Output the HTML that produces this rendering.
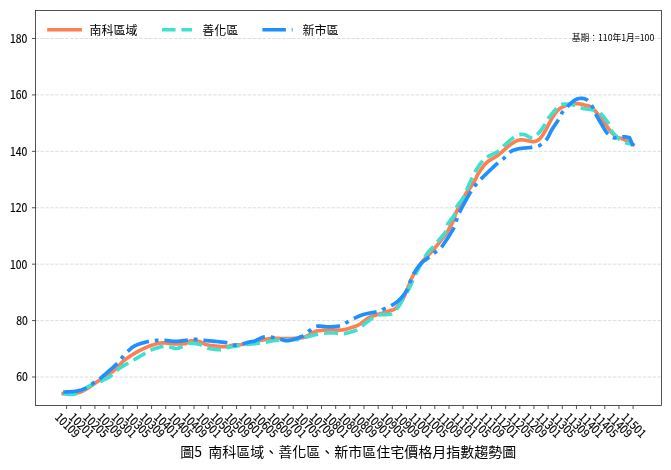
<!DOCTYPE html>
<html><head><meta charset="utf-8"><title>圖5 南科區域、善化區、新市區住宅價格月指數趨勢圖</title>
<style>
html,body{margin:0;padding:0;background:#fff;width:671px;height:470px;overflow:hidden}
svg{display:block;will-change:transform}
text{font-family:'Noto Sans CJK TC', 'Liberation Sans', sans-serif;fill:#000}
.t{stroke:#000;stroke-width:0.18px}
</style></head><body>
<svg width="671" height="470" viewBox="0 0 671 470">
<rect width="671" height="470" fill="#fff"/>
<line x1="35.5" y1="377.00" x2="661.5" y2="377.00" stroke="#dcdcdc" stroke-width="0.93" stroke-dasharray="3.446 1.490"/>
<line x1="35.5" y1="320.58" x2="661.5" y2="320.58" stroke="#dcdcdc" stroke-width="0.93" stroke-dasharray="3.446 1.490"/>
<line x1="35.5" y1="264.17" x2="661.5" y2="264.17" stroke="#dcdcdc" stroke-width="0.93" stroke-dasharray="3.446 1.490"/>
<line x1="35.5" y1="207.75" x2="661.5" y2="207.75" stroke="#dcdcdc" stroke-width="0.93" stroke-dasharray="3.446 1.490"/>
<line x1="35.5" y1="151.34" x2="661.5" y2="151.34" stroke="#dcdcdc" stroke-width="0.93" stroke-dasharray="3.446 1.490"/>
<line x1="35.5" y1="94.92" x2="661.5" y2="94.92" stroke="#dcdcdc" stroke-width="0.93" stroke-dasharray="3.446 1.490"/>
<line x1="35.5" y1="38.50" x2="661.5" y2="38.50" stroke="#dcdcdc" stroke-width="0.93" stroke-dasharray="3.446 1.490"/>
<path d="M63.20,393.50 L65.30,393.40 L67.39,393.39 L69.48,393.41 L71.57,393.42 L73.67,393.35 L75.77,393.16 L77.88,392.80 L80.00,392.20 L82.13,391.34 L84.28,390.26 L86.43,389.01 L88.59,387.63 L90.75,386.17 L92.90,384.68 L95.06,383.21 L97.20,381.80 L99.39,380.41 L101.66,378.96 L103.96,377.49 L106.24,376.01 L108.45,374.54 L110.55,373.10 L112.48,371.71 L114.20,370.40 L115.72,369.12 L117.08,367.84 L118.30,366.58 L119.40,365.37 L120.38,364.23 L121.27,363.19 L122.07,362.27 L122.80,361.50 L123.36,360.94 L123.69,360.61 L123.87,360.42 L123.98,360.32 L124.11,360.23 L124.34,360.10 L124.74,359.84 L125.40,359.40 L126.34,358.76 L127.47,357.99 L128.76,357.12 L130.16,356.19 L131.62,355.24 L133.10,354.30 L134.54,353.41 L135.90,352.60 L137.20,351.86 L138.51,351.15 L139.81,350.46 L141.11,349.80 L142.40,349.16 L143.70,348.55 L145.00,347.96 L146.30,347.40 L147.62,346.85 L148.97,346.32 L150.34,345.81 L151.69,345.33 L153.03,344.88 L154.32,344.47 L155.55,344.11 L156.70,343.80 L157.75,343.55 L158.69,343.34 L159.57,343.19 L160.41,343.07 L161.24,342.99 L162.10,342.94 L163.01,342.91 L164.00,342.90 L165.06,342.93 L166.15,343.02 L167.27,343.15 L168.43,343.31 L169.62,343.46 L170.85,343.61 L172.11,343.73 L173.40,343.80 L174.79,343.84 L176.29,343.89 L177.86,343.92 L179.45,343.93 L181.01,343.91 L182.48,343.85 L183.83,343.75 L185.00,343.60 L185.95,343.36 L186.72,343.03 L187.35,342.63 L187.90,342.21 L188.43,341.79 L188.98,341.41 L189.62,341.10 L190.40,340.90 L191.31,340.79 L192.31,340.74 L193.38,340.74 L194.48,340.79 L195.60,340.88 L196.71,341.02 L197.78,341.19 L198.80,341.40 L199.74,341.67 L200.63,342.03 L201.48,342.44 L202.32,342.88 L203.18,343.33 L204.08,343.77 L205.05,344.17 L206.10,344.50 L207.26,344.78 L208.51,345.03 L209.82,345.26 L211.17,345.46 L212.54,345.65 L213.90,345.81 L215.23,345.96 L216.50,346.10 L217.73,346.23 L218.95,346.35 L220.15,346.46 L221.33,346.55 L222.50,346.61 L223.65,346.65 L224.78,346.65 L225.90,346.60 L227.00,346.49 L228.08,346.32 L229.14,346.11 L230.18,345.86 L231.21,345.61 L232.22,345.37 L233.22,345.16 L234.20,345.00 L235.09,344.91 L235.84,344.88 L236.54,344.88 L237.24,344.89 L238.02,344.89 L238.94,344.84 L240.08,344.72 L241.50,344.50 L243.29,344.16 L245.42,343.72 L247.79,343.21 L250.29,342.65 L252.82,342.08 L255.29,341.53 L257.58,341.02 L259.60,340.60 L261.36,340.24 L262.96,339.90 L264.44,339.59 L265.83,339.31 L267.16,339.05 L268.46,338.84 L269.76,338.65 L271.10,338.50 L272.45,338.40 L273.77,338.35 L275.08,338.35 L276.36,338.37 L277.64,338.41 L278.92,338.45 L280.20,338.49 L281.50,338.50 L282.80,338.51 L284.10,338.53 L285.39,338.55 L286.69,338.57 L287.99,338.58 L289.31,338.58 L290.64,338.55 L292.00,338.50 L293.38,338.45 L294.78,338.41 L296.20,338.37 L297.63,338.31 L299.07,338.20 L300.51,338.02 L301.96,337.77 L303.40,337.40 L304.88,336.88 L306.43,336.19 L308.01,335.40 L309.57,334.56 L311.10,333.71 L312.53,332.92 L313.85,332.23 L315.00,331.70 L315.94,331.33 L316.67,331.07 L317.25,330.89 L317.77,330.78 L318.27,330.71 L318.84,330.65 L319.52,330.59 L320.40,330.50 L321.47,330.39 L322.67,330.29 L323.97,330.20 L325.34,330.12 L326.75,330.05 L328.16,329.99 L329.56,329.94 L330.90,329.90 L332.20,329.90 L333.51,329.93 L334.81,330.00 L336.11,330.06 L337.40,330.11 L338.70,330.13 L340.00,330.10 L341.30,330.00 L342.61,329.83 L343.95,329.60 L345.29,329.34 L346.62,329.03 L347.95,328.70 L349.24,328.34 L350.50,327.97 L351.70,327.60 L352.85,327.22 L353.94,326.84 L355.00,326.44 L356.03,326.03 L357.05,325.58 L358.05,325.10 L359.07,324.57 L360.10,324.00 L361.14,323.35 L362.18,322.60 L363.22,321.80 L364.25,320.97 L365.28,320.15 L366.32,319.36 L367.36,318.63 L368.40,318.00 L369.42,317.47 L370.41,317.02 L371.38,316.62 L372.37,316.26 L373.38,315.92 L374.44,315.58 L375.58,315.21 L376.80,314.80 L378.16,314.35 L379.67,313.87 L381.26,313.38 L382.89,312.88 L384.52,312.38 L386.07,311.89 L387.52,311.43 L388.80,311.00 L389.91,310.64 L390.88,310.37 L391.76,310.14 L392.56,309.92 L393.33,309.65 L394.09,309.31 L394.87,308.84 L395.70,308.20 L396.58,307.40 L397.48,306.49 L398.38,305.47 L399.29,304.36 L400.18,303.17 L401.05,301.92 L401.90,300.63 L402.70,299.30 L403.47,297.89 L404.21,296.36 L404.93,294.75 L405.63,293.10 L406.31,291.44 L406.96,289.81 L407.59,288.25 L408.20,286.80 L408.78,285.43 L409.32,284.11 L409.84,282.83 L410.33,281.60 L410.82,280.41 L411.30,279.26 L411.79,278.16 L412.30,277.10 L412.81,276.11 L413.31,275.21 L413.81,274.37 L414.31,273.56 L414.83,272.77 L415.36,271.96 L415.91,271.11 L416.50,270.20 L417.12,269.22 L417.76,268.20 L418.41,267.14 L419.09,266.06 L419.79,264.99 L420.51,263.92 L421.25,262.89 L422.00,261.90 L422.77,260.97 L423.55,260.09 L424.35,259.25 L425.17,258.42 L426.02,257.58 L426.88,256.71 L427.78,255.79 L428.70,254.80 L429.66,253.75 L430.66,252.65 L431.69,251.51 L432.74,250.34 L433.80,249.14 L434.87,247.92 L435.94,246.67 L437.00,245.40 L438.09,244.05 L439.25,242.60 L440.43,241.08 L441.61,239.56 L442.74,238.08 L443.79,236.69 L444.72,235.45 L445.50,234.40 L446.09,233.60 L446.52,233.03 L446.82,232.61 L447.05,232.28 L447.25,231.97 L447.45,231.62 L447.72,231.15 L448.10,230.50 L448.58,229.69 L449.11,228.78 L449.68,227.79 L450.28,226.74 L450.88,225.65 L451.48,224.51 L452.06,223.36 L452.60,222.20 L453.10,221.01 L453.58,219.75 L454.04,218.46 L454.49,217.14 L454.95,215.81 L455.41,214.50 L455.89,213.23 L456.40,212.00 L456.94,210.82 L457.50,209.68 L458.07,208.56 L458.66,207.46 L459.25,206.37 L459.84,205.29 L460.42,204.20 L461.00,203.10 L461.57,201.98 L462.13,200.83 L462.69,199.68 L463.26,198.54 L463.82,197.41 L464.38,196.32 L464.94,195.28 L465.50,194.30 L466.06,193.40 L466.62,192.58 L467.17,191.81 L467.73,191.07 L468.29,190.34 L468.85,189.60 L469.42,188.83 L470.00,188.00 L470.60,187.11 L471.22,186.17 L471.86,185.21 L472.50,184.22 L473.13,183.25 L473.73,182.29 L474.29,181.37 L474.80,180.50 L475.24,179.69 L475.62,178.93 L475.96,178.21 L476.27,177.51 L476.58,176.81 L476.91,176.10 L477.27,175.37 L477.70,174.60 L478.19,173.78 L478.71,172.93 L479.27,172.05 L479.86,171.16 L480.45,170.27 L481.04,169.41 L481.63,168.58 L482.20,167.80 L482.75,167.06 L483.29,166.35 L483.82,165.66 L484.35,165.00 L484.89,164.36 L485.44,163.75 L486.01,163.16 L486.60,162.60 L487.22,162.07 L487.85,161.58 L488.51,161.12 L489.18,160.69 L489.85,160.27 L490.53,159.85 L491.22,159.43 L491.90,159.00 L492.59,158.57 L493.28,158.16 L493.98,157.76 L494.69,157.36 L495.39,156.95 L496.10,156.53 L496.80,156.08 L497.50,155.60 L498.20,155.08 L498.91,154.52 L499.62,153.94 L500.33,153.34 L501.02,152.73 L501.70,152.14 L502.37,151.55 L503.00,151.00 L503.59,150.48 L504.12,149.98 L504.63,149.50 L505.12,149.02 L505.62,148.54 L506.16,148.05 L506.74,147.54 L507.40,147.00 L508.14,146.41 L508.95,145.78 L509.81,145.11 L510.71,144.44 L511.61,143.78 L512.51,143.16 L513.38,142.59 L514.20,142.10 L514.97,141.68 L515.70,141.29 L516.41,140.95 L517.11,140.65 L517.81,140.39 L518.53,140.18 L519.29,140.02 L520.10,139.90 L520.97,139.85 L521.89,139.86 L522.85,139.94 L523.83,140.05 L524.81,140.19 L525.77,140.34 L526.71,140.48 L527.60,140.60 L528.45,140.74 L529.27,140.92 L530.06,141.13 L530.84,141.33 L531.61,141.50 L532.37,141.62 L533.14,141.66 L533.90,141.60 L534.66,141.46 L535.42,141.27 L536.17,141.03 L536.92,140.72 L537.66,140.33 L538.41,139.86 L539.15,139.28 L539.90,138.60 L540.65,137.79 L541.40,136.84 L542.15,135.80 L542.91,134.66 L543.66,133.47 L544.41,132.22 L545.15,130.96 L545.90,129.70 L546.64,128.39 L547.38,126.99 L548.12,125.54 L548.85,124.06 L549.58,122.58 L550.32,121.14 L551.06,119.77 L551.80,118.50 L552.55,117.30 L553.30,116.14 L554.05,115.02 L554.80,113.94 L555.55,112.93 L556.30,111.98 L557.05,111.10 L557.80,110.30 L558.54,109.60 L559.28,108.98 L560.02,108.45 L560.75,107.98 L561.48,107.55 L562.22,107.15 L562.96,106.78 L563.70,106.40 L564.44,106.03 L565.16,105.69 L565.88,105.38 L566.61,105.09 L567.34,104.83 L568.10,104.60 L568.88,104.39 L569.70,104.20 L570.56,104.03 L571.45,103.89 L572.37,103.77 L573.31,103.67 L574.26,103.61 L575.21,103.57 L576.16,103.57 L577.10,103.60 L578.04,103.68 L579.01,103.80 L579.98,103.97 L580.94,104.16 L581.90,104.37 L582.84,104.59 L583.74,104.80 L584.60,105.00 L585.43,105.18 L586.25,105.36 L587.04,105.53 L587.81,105.71 L588.55,105.90 L589.25,106.10 L589.90,106.34 L590.50,106.60 L591.03,106.89 L591.49,107.19 L591.89,107.50 L592.26,107.84 L592.61,108.21 L592.97,108.60 L593.36,109.03 L593.80,109.50 L594.28,110.01 L594.79,110.57 L595.31,111.16 L595.85,111.79 L596.39,112.43 L596.94,113.09 L597.47,113.75 L598.00,114.40 L598.52,115.06 L599.03,115.73 L599.54,116.42 L600.05,117.11 L600.56,117.81 L601.07,118.51 L601.58,119.21 L602.10,119.90 L602.62,120.59 L603.15,121.27 L603.67,121.96 L604.20,122.64 L604.73,123.33 L605.25,124.02 L605.78,124.71 L606.30,125.40 L606.81,126.10 L607.30,126.80 L607.78,127.50 L608.26,128.20 L608.76,128.90 L609.27,129.60 L609.82,130.30 L610.40,131.00 L611.03,131.72 L611.70,132.46 L612.39,133.22 L613.11,133.97 L613.84,134.69 L614.57,135.37 L615.29,135.98 L616.00,136.50 L616.69,136.92 L617.38,137.26 L618.07,137.53 L618.76,137.75 L619.44,137.95 L620.13,138.14 L620.81,138.35 L621.50,138.60 L622.18,138.87 L622.86,139.13 L623.54,139.39 L624.21,139.65 L624.89,139.93 L625.58,140.22 L626.28,140.54 L627.00,140.90 L627.73,141.30 L628.48,141.73 L629.24,142.18 L630.01,142.66 L630.79,143.15 L631.56,143.64 L632.33,144.13 L633.10,144.60" fill="none" stroke="#ff7f50" stroke-width="3.67" stroke-linecap="square" stroke-linejoin="round"/>
<path d="M63.20,393.90 L63.73,393.90 L64.26,393.92 L64.78,393.94 L65.31,393.97 L65.83,394.01 L66.36,394.06 L66.88,394.10 L67.40,394.15 L67.93,394.20 L68.45,394.25 L68.98,394.29 L69.50,394.33 L70.03,394.36 L70.55,394.39 L71.08,394.40 L71.61,394.40 L72.14,394.39 L72.67,394.37 L73.20,394.32 L73.74,394.26 L74.27,394.18 L74.81,394.08 L75.36,393.95 L75.90,393.80 L76.45,393.62 L77.00,393.41 L77.01,393.41" fill="none" stroke="#40e0d0" stroke-width="3.67" stroke-linejoin="round"/>
<path d="M82.28,390.48 L82.73,390.19 L83.30,389.80 L83.88,389.42 L84.45,389.04 L85.02,388.66 L85.58,388.28 L86.15,387.91 L86.70,387.55 L87.26,387.21 L87.80,386.88 L88.34,386.57 L88.88,386.27 L89.40,386.00 L89.92,385.75 L90.43,385.50 L90.94,385.27 L91.45,385.05 L91.95,384.84 L92.44,384.63 L92.93,384.43 L93.42,384.24 L93.91,384.05 L94.39,383.87 L94.50,383.83" fill="none" stroke="#40e0d0" stroke-width="3.67" stroke-linejoin="round"/>
<path d="M100.12,381.66 L100.44,381.51 L100.90,381.30 L101.36,381.08 L101.82,380.86 L102.28,380.64 L102.74,380.41 L103.21,380.18 L103.67,379.95 L104.14,379.71 L104.60,379.48 L105.06,379.24 L105.52,379.00 L105.97,378.76 L106.43,378.52 L106.87,378.28 L107.31,378.03 L107.75,377.79 L108.18,377.54 L108.60,377.30 L109.01,377.06 L109.42,376.81 L109.82,376.57 L110.20,376.32 L110.58,376.08 L110.95,375.84 L111.30,375.60 L111.64,375.36 L111.97,375.12 L112.28,374.87 L112.29,374.87" fill="none" stroke="#40e0d0" stroke-width="3.67" stroke-linejoin="round"/>
<path d="M116.62,370.66 L116.85,370.45 L117.09,370.23 L117.34,370.01 L117.60,369.80 L117.86,369.60 L118.11,369.40 L118.35,369.21 L118.60,369.02 L118.83,368.85 L119.07,368.67 L119.30,368.50 L119.53,368.34 L119.77,368.17 L120.00,368.01 L120.23,367.85 L120.47,367.69 L120.71,367.53 L120.95,367.38 L121.20,367.21 L121.46,367.05 L121.72,366.89 L121.99,366.72 L122.26,366.55 L122.55,366.37 L122.84,366.19 L123.15,366.00 L123.47,365.80 L123.80,365.60 L124.14,365.39 L124.50,365.18 L124.86,364.97 L125.23,364.75 L125.61,364.53 L126.00,364.30 L126.39,364.08 L126.80,363.85 L127.21,363.62 L127.62,363.38 L128.04,363.15 L128.26,363.02" fill="none" stroke="#40e0d0" stroke-width="3.67" stroke-linejoin="round"/>
<path d="M133.52,360.06 L133.80,359.90 L134.26,359.64 L134.72,359.37 L135.21,359.09 L135.70,358.80 L136.20,358.51 L136.71,358.21 L137.22,357.91 L137.74,357.61 L138.26,357.31 L138.78,357.00 L139.30,356.70 L139.82,356.39 L140.33,356.09 L140.84,355.79 L141.35,355.50 L141.84,355.21 L142.33,354.93 L142.80,354.65 L143.26,354.38 L143.70,354.13 L144.13,353.88 L144.54,353.64 L144.93,353.41 L145.30,353.20 L145.42,353.13" fill="none" stroke="#40e0d0" stroke-width="3.67" stroke-linejoin="round"/>
<path d="M150.51,350.20 L150.65,350.14 L151.00,350.00 L151.38,349.85 L151.80,349.70 L152.24,349.54 L152.70,349.38 L153.19,349.21 L153.69,349.03 L154.21,348.86 L154.75,348.68 L155.29,348.50 L155.85,348.32 L156.41,348.14 L156.97,347.97 L157.53,347.80 L158.09,347.63 L158.65,347.47 L159.20,347.31 L159.73,347.16 L160.26,347.02 L160.77,346.89 L161.26,346.77 L161.73,346.66 L162.18,346.56 L162.61,346.47 L163.00,346.40 L163.37,346.34 L163.49,346.32" fill="none" stroke="#40e0d0" stroke-width="3.67" stroke-linejoin="round"/>
<path d="M169.28,346.91 L169.48,346.95 L169.77,347.01 L170.07,347.07 L170.36,347.15 L170.67,347.23 L170.97,347.31 L171.28,347.40 L171.59,347.49 L171.90,347.58 L172.21,347.68 L172.53,347.77 L172.84,347.86 L173.16,347.95 L173.47,348.04 L173.79,348.12 L174.10,348.20 L174.41,348.27 L174.72,348.33 L175.03,348.39 L175.33,348.43 L175.63,348.47 L175.92,348.49 L176.21,348.50 L176.50,348.50 L176.78,348.48 L177.06,348.46 L177.34,348.42 L177.61,348.37 L177.88,348.32 L178.15,348.25 L178.42,348.18 L178.68,348.10 L178.94,348.02 L179.21,347.93 L179.47,347.83 L179.72,347.73 L179.98,347.63 L180.24,347.52 L180.50,347.41 L180.75,347.30 L181.01,347.18 L181.26,347.07 L181.52,346.95 L181.77,346.84 L182.03,346.73 L182.29,346.61 L182.54,346.51 L182.63,346.47" fill="none" stroke="#40e0d0" stroke-width="3.67" stroke-linejoin="round"/>
<path d="M188.15,343.72 L188.39,343.64 L188.65,343.56 L188.90,343.50 L189.15,343.45 L189.41,343.40 L189.66,343.36 L189.91,343.33 L190.17,343.30 L190.42,343.28 L190.67,343.27 L190.92,343.26 L191.17,343.26 L191.43,343.26 L191.68,343.27 L191.93,343.28 L192.18,343.30 L192.44,343.31 L192.69,343.34 L192.94,343.36 L193.20,343.39 L193.45,343.41 L193.71,343.44 L193.97,343.47 L194.22,343.50 L194.48,343.54 L194.74,343.57 L195.00,343.60 L195.26,343.63 L195.52,343.67 L195.79,343.70 L196.05,343.74 L196.32,343.78 L196.58,343.82 L196.85,343.86 L197.12,343.90 L197.39,343.95 L197.66,344.00 L197.92,344.05 L198.19,344.11 L198.46,344.16 L198.73,344.22 L199.00,344.29 L199.27,344.35 L199.54,344.42 L199.81,344.49 L200.07,344.57 L200.34,344.65 L200.61,344.73 L200.87,344.82 L201.14,344.91 L201.40,345.00 L201.66,345.10 L201.90,345.21 L201.98,345.25" fill="none" stroke="#40e0d0" stroke-width="3.67" stroke-linejoin="round"/>
<path d="M207.25,348.11 L207.60,348.20 L208.02,348.30 L208.47,348.40 L208.95,348.49 L209.46,348.59 L210.00,348.69 L210.55,348.78 L211.12,348.87 L211.71,348.96 L212.31,349.05 L212.92,349.13 L213.53,349.21 L214.15,349.28 L214.77,349.35 L215.38,349.42 L215.99,349.48 L216.59,349.53 L217.18,349.58 L217.75,349.62 L218.30,349.65 L218.84,349.68 L219.35,349.70 L219.83,349.71 L220.28,349.71 L220.70,349.70 L220.94,349.69" fill="none" stroke="#40e0d0" stroke-width="3.67" stroke-linejoin="round"/>
<path d="M226.45,347.71 L226.52,347.69 L226.90,347.60 L227.31,347.51 L227.75,347.43 L228.22,347.34 L228.71,347.25 L229.23,347.16 L229.77,347.07 L230.32,346.98 L230.89,346.89 L231.47,346.79 L232.06,346.70 L232.65,346.61 L233.24,346.52 L233.84,346.44 L234.43,346.35 L235.01,346.27 L235.59,346.18 L236.15,346.10 L236.70,346.02 L237.23,345.94 L237.74,345.87 L238.22,345.80 L238.68,345.73 L239.11,345.66 L239.50,345.60 L239.86,345.54 L240.07,345.51" fill="none" stroke="#40e0d0" stroke-width="3.67" stroke-linejoin="round"/>
<path d="M246.01,344.58 L246.35,344.54 L246.87,344.48 L247.40,344.42 L247.97,344.36 L248.55,344.29 L249.15,344.23 L249.76,344.16 L250.39,344.10 L251.02,344.03 L251.66,343.96 L252.30,343.89 L252.93,343.83 L253.57,343.76 L254.20,343.69 L254.81,343.63 L255.42,343.56 L256.01,343.50 L256.58,343.43 L257.12,343.37 L257.64,343.31 L258.14,343.26 L258.60,343.20 L259.03,343.15 L259.44,343.10 L259.82,343.05 L259.84,343.05" fill="none" stroke="#40e0d0" stroke-width="3.67" stroke-linejoin="round"/>
<path d="M265.79,342.20 L265.99,342.16 L266.40,342.10 L266.83,342.03 L267.26,341.95 L267.69,341.87 L268.13,341.79 L268.58,341.70 L269.04,341.61 L269.50,341.51 L269.97,341.41 L270.44,341.32 L270.93,341.21 L271.43,341.11 L271.93,341.01 L272.45,340.91 L272.97,340.81 L273.51,340.71 L274.06,340.62 L274.62,340.53 L275.19,340.44 L275.77,340.35 L276.37,340.27 L276.98,340.19 L277.61,340.12 L278.25,340.06 L278.90,340.00 L279.33,339.97" fill="none" stroke="#40e0d0" stroke-width="3.67" stroke-linejoin="round"/>
<path d="M285.18,339.78 L285.27,339.77 L286.17,339.77 L287.07,339.76 L287.97,339.75 L288.88,339.75 L289.77,339.75 L290.66,339.74 L291.54,339.73 L292.40,339.73 L293.24,339.71 L294.06,339.70 L294.85,339.68 L295.60,339.66 L296.32,339.63 L296.99,339.59 L297.62,339.55 L298.20,339.50 L298.73,339.44 L298.93,339.42" fill="none" stroke="#40e0d0" stroke-width="3.67" stroke-linejoin="round"/>
<path d="M304.67,337.66 L304.85,337.60 L305.16,337.50 L305.50,337.40 L305.85,337.30 L306.21,337.20 L306.58,337.09 L306.95,336.99 L307.33,336.88 L307.72,336.76 L308.11,336.65 L308.50,336.54 L308.90,336.42 L309.30,336.31 L309.70,336.19 L310.11,336.08 L310.51,335.96 L310.92,335.84 L311.33,335.73 L311.74,335.62 L312.16,335.51 L312.57,335.40 L312.98,335.29 L313.39,335.19 L313.79,335.09 L314.20,334.99 L314.60,334.89 L315.00,334.80 L315.40,334.71 L315.79,334.62 L316.17,334.53 L316.55,334.44 L316.94,334.36 L317.31,334.27 L317.69,334.19 L318.07,334.10 L318.16,334.08" fill="none" stroke="#40e0d0" stroke-width="3.67" stroke-linejoin="round"/>
<path d="M324.12,333.14 L324.13,333.14 L324.60,333.10 L325.08,333.07 L325.58,333.04 L326.10,333.02 L326.64,333.00 L327.19,332.98 L327.76,332.97 L328.33,332.96 L328.91,332.96 L329.50,332.95 L330.09,332.95 L330.68,332.96 L331.28,332.96 L331.87,332.97 L332.45,332.98 L333.03,332.99 L333.60,333.00 L334.16,333.01 L334.71,333.03 L335.24,333.04 L335.75,333.05 L336.25,333.06 L336.72,333.08 L337.17,333.09 L337.60,333.10 L338.00,333.11 L338.04,333.12" fill="none" stroke="#40e0d0" stroke-width="3.67" stroke-linejoin="round"/>
<path d="M343.98,333.66 L344.01,333.66 L344.40,333.60 L344.82,333.53 L345.27,333.45 L345.74,333.35 L346.24,333.24 L346.76,333.13 L347.29,333.00 L347.85,332.87 L348.41,332.73 L348.99,332.58 L349.57,332.42 L350.16,332.26 L350.74,332.09 L351.33,331.92 L351.91,331.75 L352.49,331.57 L353.06,331.40 L353.61,331.22 L354.15,331.04 L354.67,330.86 L355.17,330.68 L355.64,330.51 L356.09,330.33 L356.51,330.16 L356.90,330.00 L357.25,329.84 L357.27,329.83" fill="none" stroke="#40e0d0" stroke-width="3.67" stroke-linejoin="round"/>
<path d="M361.87,326.06 L361.89,326.04 L362.20,325.80 L362.54,325.54 L362.90,325.26 L363.28,324.97 L363.67,324.66 L364.09,324.33 L364.51,324.00 L364.95,323.65 L365.40,323.30 L365.86,322.94 L366.32,322.57 L366.79,322.21 L367.27,321.84 L367.74,321.47 L368.22,321.11 L368.70,320.75 L369.17,320.39 L369.63,320.05 L370.09,319.71 L370.54,319.39 L370.98,319.08 L371.41,318.78 L371.82,318.50 L372.22,318.24 L372.60,318.00 L372.96,317.78 L373.00,317.75" fill="none" stroke="#40e0d0" stroke-width="3.67" stroke-linejoin="round"/>
<path d="M378.44,315.19 L378.56,315.15 L378.89,315.06 L379.25,314.98 L379.61,314.89 L380.00,314.80 L380.41,314.72 L380.83,314.66 L381.28,314.61 L381.74,314.58 L382.22,314.56 L382.71,314.54 L383.21,314.54 L383.73,314.54 L384.24,314.54 L384.77,314.55 L385.30,314.55 L385.82,314.56 L386.35,314.56 L386.88,314.55 L387.40,314.54 L387.92,314.52 L388.43,314.49 L388.93,314.44 L389.41,314.38 L389.88,314.31 L390.34,314.21 L390.78,314.10 L391.20,313.96 L391.60,313.80 L391.98,313.62 L392.13,313.54" fill="none" stroke="#40e0d0" stroke-width="3.67" stroke-linejoin="round"/>
<path d="M396.44,309.45 L396.64,309.19 L396.89,308.84 L397.15,308.49 L397.40,308.15 L397.64,307.81 L397.89,307.47 L398.13,307.14 L398.36,306.82 L398.60,306.50 L398.83,306.19 L399.05,305.88 L399.26,305.58 L399.46,305.27 L399.65,304.97 L399.83,304.67 L400.01,304.37 L400.18,304.06 L400.34,303.76 L400.51,303.46 L400.67,303.15 L400.82,302.84 L400.98,302.53 L401.14,302.22 L401.30,301.91 L401.46,301.59 L401.62,301.27 L401.78,300.95 L401.95,300.62 L402.13,300.29 L402.31,299.95 L402.50,299.60 L402.69,299.26 L402.90,298.90 L403.11,298.55 L403.32,298.20 L403.53,297.86 L403.66,297.66" fill="none" stroke="#40e0d0" stroke-width="3.67" stroke-linejoin="round"/>
<path d="M406.88,292.60 L407.00,292.39 L407.27,291.93 L407.54,291.46 L407.82,290.95 L408.11,290.43 L408.40,289.88 L408.70,289.30 L409.01,288.69 L409.33,288.04 L409.66,287.37 L409.99,286.66 L410.34,285.93 L410.69,285.17 L411.05,284.39 L411.41,283.59 L411.78,282.78 L412.16,281.95 L412.54,281.11 L412.92,280.27 L412.97,280.17" fill="none" stroke="#40e0d0" stroke-width="3.67" stroke-linejoin="round"/>
<path d="M415.45,274.72 L415.62,274.36 L416.00,273.55 L416.38,272.75 L416.76,271.98 L417.13,271.23 L417.50,270.50 L417.87,269.78 L418.24,269.07 L418.61,268.35 L418.98,267.64 L419.36,266.92 L419.73,266.21 L420.11,265.51 L420.49,264.81 L420.86,264.11 L421.24,263.42 L421.61,262.74 L421.80,262.40" fill="none" stroke="#40e0d0" stroke-width="3.67" stroke-linejoin="round"/>
<path d="M424.80,257.22 L424.87,257.11 L425.21,256.55 L425.55,256.02 L425.88,255.50 L426.20,255.00 L426.52,254.52 L426.83,254.07 L427.14,253.64 L427.44,253.22 L427.74,252.82 L428.03,252.44 L428.32,252.08 L428.61,251.73 L428.89,251.39 L429.17,251.07 L429.45,250.75 L429.73,250.45 L430.00,250.15 L430.26,249.87 L430.53,249.58 L430.79,249.30 L431.05,249.03 L431.30,248.76 L431.56,248.48 L431.81,248.21 L432.06,247.94 L432.31,247.66 L432.56,247.38 L432.80,247.10 L433.04,246.82 L433.27,246.55 L433.40,246.40" fill="none" stroke="#40e0d0" stroke-width="3.67" stroke-linejoin="round"/>
<path d="M437.33,241.88 L437.39,241.81 L437.64,241.51 L437.90,241.20 L438.17,240.87 L438.46,240.53 L438.77,240.17 L439.09,239.81 L439.42,239.43 L439.76,239.04 L440.11,238.64 L440.47,238.23 L440.83,237.82 L441.19,237.40 L441.55,236.98 L441.91,236.56 L442.27,236.13 L442.62,235.71 L442.97,235.29 L443.31,234.87 L443.64,234.46 L443.96,234.05 L444.26,233.65 L444.55,233.26 L444.82,232.87 L445.07,232.50 L445.29,232.14 L445.50,231.80 L445.68,231.47 L445.83,231.16 L445.89,231.00" fill="none" stroke="#40e0d0" stroke-width="3.67" stroke-linejoin="round"/>
<path d="M447.12,225.17 L447.20,225.00 L447.41,224.62 L447.65,224.21 L447.92,223.79 L448.21,223.35 L448.52,222.89 L448.84,222.43 L449.19,221.95 L449.54,221.46 L449.91,220.96 L450.29,220.46 L450.67,219.96 L451.05,219.45 L451.43,218.94 L451.81,218.44 L452.19,217.94 L452.56,217.44 L452.91,216.95 L453.26,216.47 L453.58,216.01 L453.89,215.55 L454.18,215.11 L454.45,214.69 L454.69,214.28 L454.90,213.90 L455.08,213.54 L455.09,213.53" fill="none" stroke="#40e0d0" stroke-width="3.67" stroke-linejoin="round"/>
<path d="M456.40,207.51 L456.42,207.46 L456.60,207.10 L456.81,206.72 L457.04,206.33 L457.30,205.92 L457.58,205.49 L457.88,205.06 L458.20,204.61 L458.53,204.15 L458.87,203.69 L459.22,203.21 L459.59,202.73 L459.95,202.25 L460.33,201.76 L460.70,201.27 L461.07,200.78 L461.44,200.29 L461.81,199.80 L462.17,199.32 L462.52,198.84 L462.85,198.36 L463.18,197.89 L463.49,197.43 L463.78,196.97 L464.05,196.53 L464.30,196.10 L464.42,195.88" fill="none" stroke="#40e0d0" stroke-width="3.67" stroke-linejoin="round"/>
<path d="M466.70,190.32 L466.79,190.06 L466.91,189.68 L467.04,189.30 L467.17,188.92 L467.30,188.55 L467.43,188.17 L467.56,187.80 L467.70,187.43 L467.85,187.07 L468.00,186.70 L468.15,186.34 L468.31,185.98 L468.46,185.62 L468.62,185.27 L468.77,184.92 L468.93,184.57 L469.08,184.22 L469.23,183.88 L469.39,183.54 L469.54,183.20 L469.70,182.86 L469.85,182.52 L470.00,182.19 L470.16,181.86 L470.31,181.53 L470.47,181.20 L470.62,180.87 L470.77,180.55 L470.93,180.22 L471.08,179.89 L471.24,179.57 L471.39,179.25 L471.55,178.92 L471.70,178.60 L471.85,178.28 L472.00,177.97 L472.14,177.66 L472.20,177.53" fill="none" stroke="#40e0d0" stroke-width="3.67" stroke-linejoin="round"/>
<path d="M474.86,172.12 L474.99,171.89 L475.19,171.55 L475.40,171.20 L475.62,170.84 L475.86,170.46 L476.10,170.06 L476.36,169.66 L476.63,169.24 L476.90,168.81 L477.18,168.38 L477.47,167.94 L477.76,167.50 L478.05,167.06 L478.35,166.61 L478.66,166.17 L478.96,165.73 L479.26,165.29 L479.57,164.86 L479.87,164.43 L480.17,164.02 L480.46,163.61 L480.75,163.22 L481.04,162.84 L481.31,162.48 L481.58,162.13 L481.85,161.81 L482.10,161.50 L482.34,161.21 L482.57,160.95 L482.61,160.90" fill="none" stroke="#40e0d0" stroke-width="3.67" stroke-linejoin="round"/>
<path d="M487.00,157.19 L487.30,157.00 L487.66,156.78 L488.04,156.56 L488.45,156.32 L488.89,156.09 L489.34,155.85 L489.82,155.61 L490.31,155.36 L490.81,155.11 L491.32,154.86 L491.85,154.61 L492.37,154.35 L492.90,154.09 L493.43,153.84 L493.95,153.58 L494.48,153.32 L494.99,153.07 L495.49,152.81 L495.98,152.56 L496.46,152.31 L496.91,152.06 L497.35,151.81 L497.76,151.57 L498.14,151.33 L498.50,151.10 L498.83,150.87 L499.05,150.71" fill="none" stroke="#40e0d0" stroke-width="3.67" stroke-linejoin="round"/>
<path d="M503.22,146.35 L503.40,146.17 L503.70,145.90 L504.02,145.61 L504.36,145.31 L504.72,144.98 L505.10,144.65 L505.49,144.30 L505.90,143.94 L506.31,143.57 L506.74,143.20 L507.17,142.82 L507.61,142.43 L508.05,142.05 L508.50,141.66 L508.95,141.28 L509.39,140.90 L509.84,140.53 L510.27,140.16 L510.71,139.80 L511.13,139.45 L511.54,139.12 L511.95,138.80 L512.33,138.50 L512.71,138.21 L513.06,137.94 L513.40,137.70 L513.72,137.47 L513.93,137.33" fill="none" stroke="#40e0d0" stroke-width="3.67" stroke-linejoin="round"/>
<path d="M519.35,134.71 L519.40,134.70 L519.63,134.64 L519.85,134.59 L520.07,134.54 L520.29,134.49 L520.50,134.45 L520.70,134.42 L520.91,134.39 L521.11,134.37 L521.31,134.35 L521.51,134.34 L521.71,134.33 L521.91,134.32 L522.11,134.33 L522.32,134.34 L522.52,134.35 L522.73,134.37 L522.95,134.39 L523.16,134.42 L523.39,134.45 L523.62,134.49 L523.85,134.54 L524.09,134.59 L524.34,134.64 L524.60,134.70 L524.87,134.77 L525.14,134.87 L525.43,134.98 L525.72,135.11 L526.02,135.25 L526.32,135.41 L526.63,135.58 L526.94,135.75 L527.26,135.93 L527.58,136.11 L527.90,136.29 L528.23,136.47 L528.55,136.65 L528.88,136.82 L529.20,136.98 L529.53,137.13 L529.85,137.27 L530.17,137.39 L530.49,137.50 L530.80,137.59 L531.11,137.65 L531.41,137.70 L531.71,137.71 L532.00,137.70 L532.29,137.66 L532.31,137.66" fill="none" stroke="#40e0d0" stroke-width="3.67" stroke-linejoin="round"/>
<path d="M537.16,134.63 L537.37,134.43 L537.63,134.17 L537.88,133.92 L538.14,133.66 L538.40,133.40 L538.66,133.13 L538.92,132.85 L539.18,132.55 L539.45,132.24 L539.72,131.92 L539.98,131.59 L540.25,131.25 L540.51,130.90 L540.78,130.54 L541.04,130.18 L541.31,129.82 L541.57,129.45 L541.83,129.08 L542.08,128.71 L542.34,128.34 L542.59,127.97 L542.83,127.60 L543.07,127.24 L543.31,126.88 L543.54,126.53 L543.76,126.18 L543.98,125.84 L544.19,125.52 L544.40,125.20 L544.59,124.89 L544.77,124.60 L544.94,124.31 L545.10,124.03 L545.16,123.91" fill="none" stroke="#40e0d0" stroke-width="3.67" stroke-linejoin="round"/>
<path d="M547.89,118.79 L548.10,118.50 L548.36,118.15 L548.63,117.78 L548.93,117.39 L549.23,117.00 L549.55,116.58 L549.89,116.16 L550.23,115.73 L550.59,115.29 L550.95,114.85 L551.31,114.40 L551.69,113.95 L552.06,113.51 L552.44,113.06 L552.82,112.62 L553.20,112.18 L553.57,111.75 L553.94,111.33 L554.31,110.92 L554.66,110.53 L555.01,110.14 L555.35,109.78 L555.68,109.43 L556.00,109.11 L556.30,108.80 L556.58,108.51 L556.71,108.38" fill="none" stroke="#40e0d0" stroke-width="3.67" stroke-linejoin="round"/>
<path d="M561.30,104.64 L561.51,104.57 L561.84,104.48 L562.20,104.40 L562.58,104.33 L563.00,104.27 L563.43,104.23 L563.89,104.19 L564.36,104.17 L564.86,104.16 L565.36,104.16 L565.89,104.17 L566.42,104.19 L566.96,104.21 L567.50,104.25 L568.05,104.29 L568.60,104.33 L569.15,104.39 L569.70,104.44 L570.24,104.51 L570.77,104.57 L571.29,104.64 L571.81,104.72 L572.30,104.79 L572.78,104.87 L573.24,104.94 L573.68,105.02 L574.10,105.10 L574.49,105.18 L574.86,105.27 L575.20,105.37" fill="none" stroke="#40e0d0" stroke-width="3.67" stroke-linejoin="round"/>
<path d="M580.80,107.87 L580.82,107.87 L581.20,107.99 L581.60,108.10 L582.02,108.20 L582.47,108.30 L582.94,108.40 L583.42,108.49 L583.93,108.57 L584.44,108.66 L584.97,108.74 L585.51,108.81 L586.06,108.89 L586.62,108.97 L587.18,109.04 L587.74,109.12 L588.30,109.19 L588.85,109.27 L589.41,109.35 L589.95,109.43 L590.49,109.51 L591.01,109.60 L591.52,109.69 L592.02,109.78 L592.50,109.88 L592.95,109.98 L593.39,110.09 L593.80,110.20 L594.19,110.31 L594.56,110.42 L594.68,110.46" fill="none" stroke="#40e0d0" stroke-width="3.67" stroke-linejoin="round"/>
<path d="M600.08,113.16 L600.11,113.19 L600.40,113.43 L600.70,113.70 L601.01,113.99 L601.33,114.30 L601.66,114.63 L601.99,114.99 L602.34,115.36 L602.69,115.75 L603.04,116.16 L603.39,116.58 L603.75,117.01 L604.10,117.44 L604.46,117.89 L604.81,118.34 L605.16,118.79 L605.51,119.24 L605.84,119.70 L606.17,120.14 L606.50,120.59 L606.81,121.03 L607.11,121.46 L607.40,121.87 L607.67,122.28 L607.93,122.67 L608.17,123.04 L608.40,123.40 L608.60,123.74 L608.77,124.05" fill="none" stroke="#40e0d0" stroke-width="3.67" stroke-linejoin="round"/>
<path d="M610.72,129.70 L610.88,129.97 L611.10,130.30 L611.34,130.64 L611.60,130.99 L611.88,131.36 L612.18,131.74 L612.50,132.13 L612.83,132.53 L613.17,132.94 L613.53,133.35 L613.89,133.77 L614.27,134.18 L614.65,134.60 L615.03,135.02 L615.42,135.43 L615.81,135.84 L616.20,136.24 L616.58,136.64 L616.96,137.02 L617.34,137.39 L617.71,137.75 L618.07,138.10 L618.42,138.43 L618.76,138.74 L619.09,139.03 L619.40,139.30 L619.70,139.55 L619.99,139.79 L619.99,139.79" fill="none" stroke="#40e0d0" stroke-width="3.67" stroke-linejoin="round"/>
<path d="M625.14,142.53 L625.32,142.60 L625.60,142.70 L625.89,142.80 L626.18,142.90 L626.48,142.99 L626.77,143.07 L627.08,143.15 L627.38,143.23 L627.69,143.30 L628.00,143.37 L628.32,143.43 L628.63,143.49 L628.95,143.55 L629.27,143.61 L629.59,143.67 L629.91,143.72 L630.23,143.78 L630.55,143.83 L630.87,143.89 L631.19,143.94 L631.52,144.00 L631.83,144.05 L632.15,144.11 L632.47,144.17 L632.79,144.23 L633.10,144.30" fill="none" stroke="#40e0d0" stroke-width="3.67" stroke-linejoin="round"/>
<path d="M63.20,392.10 L63.73,392.06 L64.27,392.03 L64.81,392.00 L65.35,391.97 L65.90,391.95 L66.45,391.92 L67.00,391.89 L67.56,391.87 L68.11,391.85 L68.66,391.82 L69.21,391.80 L69.76,391.77 L70.30,391.74 L70.84,391.71 L71.38,391.68 L71.91,391.64 L72.44,391.60 L72.96,391.56 L73.47,391.51 L73.97,391.46 L74.47,391.40 L74.96,391.34 L75.43,391.27 L75.90,391.20 L76.36,391.12 L76.80,391.04 L77.24,390.96 L77.68,390.87 L78.10,390.78 L78.52,390.69 L78.93,390.59 L79.34,390.50 L79.74,390.39 L80.13,390.29 L80.52,390.18 L80.91,390.07 L81.29,389.95 L81.66,389.83 L82.04,389.71 L82.41,389.58 L82.77,389.45 L83.14,389.31 L83.50,389.17 L83.86,389.03 L84.22,388.88 L84.58,388.72 L84.94,388.56 L85.30,388.40 L85.66,388.23 L86.01,388.05 L86.36,387.86 L86.62,387.71" fill="none" stroke="#1e90ff" stroke-width="3.67" stroke-linejoin="round"/>
<path d="M91.56,384.28 L91.57,384.28 L91.88,384.05 L92.18,383.83 L92.49,383.62 L92.80,383.41 L93.10,383.20 L93.39,383.01 L93.67,382.83 L93.93,382.67 L94.18,382.52 L94.42,382.38 L94.65,382.25 L94.68,382.24" fill="none" stroke="#1e90ff" stroke-width="3.67" stroke-linejoin="round"/>
<path d="M99.59,378.95 L99.90,378.70 L100.40,378.29 L100.95,377.84 L101.53,377.35 L102.16,376.83 L102.82,376.27 L103.50,375.69 L104.21,375.09 L104.94,374.46 L105.69,373.82 L106.45,373.16 L107.21,372.50 L107.98,371.82 L108.75,371.15 L109.52,370.48 L110.27,369.81 L111.01,369.15 L111.74,368.50 L112.45,367.87 L113.13,367.26 L113.78,366.67 L114.39,366.10 L114.97,365.57 L115.51,365.07 L116.00,364.60 L116.45,364.16 L116.87,363.75 L117.26,363.35 L117.34,363.27" fill="none" stroke="#1e90ff" stroke-width="3.67" stroke-linejoin="round"/>
<path d="M121.12,358.73 L121.20,358.63 L121.40,358.37 L121.61,358.11 L121.83,357.85 L122.06,357.58 L122.30,357.30 L122.55,357.02 L122.79,356.74 L123.03,356.47 L123.26,356.20 L123.49,355.93 L123.53,355.88" fill="none" stroke="#1e90ff" stroke-width="3.67" stroke-linejoin="round"/>
<path d="M127.59,351.47 L127.72,351.35 L128.00,351.10 L128.28,350.85 L128.57,350.60 L128.85,350.34 L129.14,350.09 L129.42,349.83 L129.71,349.57 L130.00,349.32 L130.30,349.06 L130.60,348.81 L130.90,348.55 L131.21,348.30 L131.53,348.05 L131.84,347.80 L132.17,347.55 L132.50,347.31 L132.84,347.07 L133.19,346.83 L133.55,346.60 L133.92,346.37 L134.29,346.15 L134.68,345.93 L135.07,345.71 L135.48,345.50 L135.90,345.30 L136.34,345.10 L136.79,344.90 L137.27,344.71 L137.77,344.52 L138.28,344.33 L138.80,344.15 L139.34,343.96 L139.88,343.79 L140.44,343.61 L140.99,343.44 L141.56,343.27 L142.13,343.11 L142.69,342.95 L143.26,342.79 L143.82,342.64 L144.37,342.49 L144.92,342.35 L145.46,342.21 L145.99,342.08 L146.51,341.95 L147.01,341.83 L147.49,341.72 L147.96,341.61 L148.40,341.50 L148.83,341.40 L148.90,341.39" fill="none" stroke="#1e90ff" stroke-width="3.67" stroke-linejoin="round"/>
<path d="M154.83,340.53 L155.04,340.51 L155.37,340.49 L155.69,340.47 L156.02,340.44 L156.36,340.42 L156.70,340.40 L157.04,340.38 L157.38,340.36 L157.72,340.34 L158.06,340.32 L158.39,340.31 L158.54,340.31" fill="none" stroke="#1e90ff" stroke-width="3.67" stroke-linejoin="round"/>
<path d="M164.44,340.37 L164.61,340.38 L165.00,340.40 L165.40,340.42 L165.80,340.46 L166.21,340.49 L166.62,340.53 L167.04,340.58 L167.47,340.63 L167.90,340.68 L168.34,340.74 L168.78,340.79 L169.22,340.85 L169.66,340.91 L170.11,340.97 L170.56,341.03 L171.01,341.08 L171.47,341.13 L171.92,341.19 L172.37,341.23 L172.82,341.27 L173.27,341.31 L173.72,341.34 L174.17,341.37 L174.62,341.39 L175.06,341.40 L175.50,341.40 L175.94,341.39 L176.38,341.38 L176.82,341.36 L177.26,341.34 L177.70,341.31 L178.15,341.27 L178.59,341.23 L179.03,341.19 L179.48,341.14 L179.92,341.09 L180.36,341.03 L180.81,340.98 L181.25,340.92 L181.69,340.86 L182.13,340.80 L182.57,340.74 L183.00,340.68 L183.44,340.62 L183.87,340.56 L184.30,340.50 L184.73,340.45 L185.16,340.39 L185.58,340.35 L186.00,340.30 L186.42,340.25 L186.84,340.21 L187.25,340.16 L187.67,340.10 L187.90,340.07" fill="none" stroke="#1e90ff" stroke-width="3.67" stroke-linejoin="round"/>
<path d="M193.76,339.37 L194.08,339.35 L194.46,339.33 L194.84,339.31 L195.22,339.30 L195.60,339.30 L195.96,339.30 L196.30,339.31 L196.61,339.32 L196.90,339.33 L197.18,339.35 L197.44,339.38 L197.48,339.38" fill="none" stroke="#1e90ff" stroke-width="3.67" stroke-linejoin="round"/>
<path d="M203.43,340.24 L204.00,340.30 L204.69,340.37 L205.45,340.45 L206.27,340.53 L207.15,340.62 L208.08,340.71 L209.06,340.80 L210.07,340.89 L211.11,340.99 L212.18,341.09 L213.27,341.20 L214.37,341.30 L215.48,341.41 L216.59,341.51 L217.69,341.62 L218.77,341.73 L219.84,341.84 L220.88,341.95 L221.89,342.06 L222.86,342.17 L223.78,342.28 L224.66,342.39 L225.47,342.49 L226.22,342.60 L226.90,342.70 L227.34,342.78" fill="none" stroke="#1e90ff" stroke-width="3.67" stroke-linejoin="round"/>
<path d="M232.98,344.76 L233.18,344.85 L233.42,344.93 L233.66,345.01 L233.92,345.07 L234.19,345.13 L234.49,345.17 L234.80,345.20 L235.13,345.22 L235.45,345.22 L235.78,345.22 L236.11,345.20 L236.44,345.17 L236.65,345.15" fill="none" stroke="#1e90ff" stroke-width="3.67" stroke-linejoin="round"/>
<path d="M242.42,343.84 L242.60,343.80 L242.92,343.73 L243.24,343.66 L243.56,343.58 L243.89,343.50 L244.22,343.42 L244.55,343.33 L244.88,343.25 L245.21,343.16 L245.54,343.08 L245.86,342.99 L246.19,342.90 L246.51,342.81 L246.83,342.73 L247.15,342.64 L247.46,342.55 L247.77,342.47 L248.07,342.39 L248.37,342.31 L248.66,342.23 L248.94,342.16 L249.22,342.09 L249.49,342.02 L249.75,341.96 L250.00,341.90 L250.24,341.85 L250.45,341.81 L250.66,341.77 L250.84,341.74 L251.02,341.72 L251.18,341.70 L251.34,341.69 L251.49,341.68 L251.63,341.67 L251.77,341.66 L251.91,341.65 L252.04,341.64 L252.18,341.63 L252.33,341.62 L252.48,341.60 L252.64,341.58 L252.80,341.55 L252.98,341.51 L253.18,341.47 L253.38,341.42 L253.61,341.36 L253.85,341.28 L254.11,341.20 L254.40,341.10 L254.71,340.99 L255.04,340.85 L255.39,340.71 L255.75,340.54 L256.13,340.37 L256.53,340.18 L256.93,339.98 L257.35,339.78 L257.78,339.57 L258.22,339.35 L258.66,339.14 L259.11,338.92 L259.56,338.70 L260.01,338.49 L260.46,338.28 L260.91,338.08 L261.36,337.88 L261.81,337.70 L262.25,337.53 L262.68,337.37 L263.10,337.22 L263.51,337.10 L263.91,336.99 L264.30,336.90 L264.68,336.83 L264.89,336.80" fill="none" stroke="#1e90ff" stroke-width="3.67" stroke-linejoin="round"/>
<path d="M270.78,337.09 L270.89,337.11 L271.23,337.17 L271.57,337.23 L271.91,337.29 L272.25,337.34 L272.60,337.40 L272.95,337.46 L273.30,337.52 L273.65,337.59 L274.00,337.67 L274.35,337.75 L274.46,337.78" fill="none" stroke="#1e90ff" stroke-width="3.67" stroke-linejoin="round"/>
<path d="M280.31,339.35 L280.32,339.35 L280.66,339.43 L281.00,339.50 L281.33,339.57 L281.65,339.65 L281.96,339.73 L282.26,339.81 L282.56,339.89 L282.84,339.98 L283.13,340.07 L283.41,340.16 L283.69,340.24 L283.97,340.32 L284.26,340.40 L284.54,340.48 L284.84,340.54 L285.13,340.60 L285.44,340.66 L285.76,340.70 L286.08,340.73 L286.42,340.76 L286.77,340.77 L287.14,340.76 L287.53,340.75 L287.93,340.71 L288.35,340.67 L288.80,340.60 L289.27,340.52 L289.78,340.41 L290.31,340.29 L290.87,340.16 L291.45,340.01 L292.05,339.85 L292.67,339.67 L293.30,339.49 L293.95,339.29 L294.60,339.08 L295.25,338.87 L295.91,338.65 L296.57,338.42 L297.22,338.19 L297.87,337.96 L298.51,337.73 L299.13,337.49 L299.74,337.25 L300.33,337.02 L300.90,336.79 L301.44,336.56 L301.96,336.33 L302.45,336.11 L302.90,335.90 L303.32,335.69 L303.52,335.58" fill="none" stroke="#1e90ff" stroke-width="3.67" stroke-linejoin="round"/>
<path d="M308.23,331.79 L308.39,331.65 L308.63,331.43 L308.89,331.22 L309.15,331.01 L309.42,330.80 L309.70,330.60 L309.99,330.40 L310.27,330.19 L310.54,329.98 L310.81,329.77 L311.08,329.56 L311.18,329.47" fill="none" stroke="#1e90ff" stroke-width="3.67" stroke-linejoin="round"/>
<path d="M316.25,326.43 L316.41,326.39 L316.80,326.30 L317.21,326.23 L317.63,326.18 L318.07,326.14 L318.53,326.12 L319.00,326.12 L319.48,326.12 L319.97,326.14 L320.48,326.17 L320.99,326.20 L321.51,326.24 L322.03,326.29 L322.56,326.34 L323.10,326.40 L323.63,326.45 L324.17,326.51 L324.70,326.57 L325.23,326.62 L325.76,326.67 L326.29,326.71 L326.81,326.75 L327.32,326.78 L327.82,326.80 L328.32,326.80 L328.80,326.80 L329.28,326.79 L329.76,326.78 L330.24,326.76 L330.72,326.75 L331.20,326.73 L331.69,326.71 L332.17,326.69 L332.65,326.67 L333.13,326.64 L333.60,326.62 L334.07,326.58 L334.54,326.55 L335.01,326.51 L335.47,326.47 L335.92,326.42 L336.37,326.37 L336.82,326.32 L337.25,326.26 L337.68,326.20 L338.10,326.13 L338.52,326.05 L338.92,325.98 L339.32,325.89 L339.70,325.80 L339.99,325.73" fill="none" stroke="#1e90ff" stroke-width="3.67" stroke-linejoin="round"/>
<path d="M345.37,323.20 L345.50,323.12 L345.79,322.96 L346.08,322.79 L346.38,322.63 L346.69,322.46 L347.00,322.30 L347.32,322.14 L347.63,321.97 L347.95,321.80 L348.27,321.62 L348.58,321.45 L348.64,321.41" fill="none" stroke="#1e90ff" stroke-width="3.67" stroke-linejoin="round"/>
<path d="M353.86,318.50 L354.19,318.34 L354.54,318.17 L354.90,318.00 L355.26,317.83 L355.62,317.67 L355.97,317.50 L356.33,317.34 L356.69,317.17 L357.05,317.01 L357.41,316.84 L357.77,316.68 L358.14,316.52 L358.51,316.36 L358.88,316.20 L359.26,316.04 L359.64,315.89 L360.02,315.73 L360.41,315.58 L360.80,315.43 L361.20,315.28 L361.61,315.13 L362.02,314.99 L362.44,314.85 L362.87,314.71 L363.31,314.57 L363.75,314.43 L364.20,314.30 L364.67,314.17 L365.15,314.05 L365.65,313.92 L366.17,313.80 L366.70,313.69 L367.24,313.57 L367.80,313.46 L368.36,313.36 L368.92,313.25 L369.49,313.14 L370.06,313.04 L370.63,312.94 L371.20,312.84 L371.77,312.73 L372.33,312.63 L372.88,312.53 L373.42,312.43 L373.95,312.33 L374.47,312.23 L374.97,312.13 L375.46,312.02 L375.93,311.92 L376.38,311.81 L376.66,311.74" fill="none" stroke="#1e90ff" stroke-width="3.67" stroke-linejoin="round"/>
<path d="M382.29,309.74 L382.30,309.73 L382.57,309.62 L382.84,309.50 L383.12,309.38 L383.40,309.25 L383.70,309.13 L384.00,309.00 L384.31,308.87 L384.62,308.74 L384.93,308.62 L385.24,308.49 L385.55,308.37 L385.74,308.29" fill="none" stroke="#1e90ff" stroke-width="3.67" stroke-linejoin="round"/>
<path d="M391.18,305.75 L391.27,305.70 L391.60,305.50 L391.93,305.30 L392.27,305.09 L392.61,304.87 L392.96,304.66 L393.31,304.43 L393.66,304.21 L394.01,303.97 L394.37,303.74 L394.72,303.50 L395.08,303.25 L395.44,303.00 L395.79,302.74 L396.15,302.48 L396.51,302.22 L396.86,301.95 L397.21,301.67 L397.56,301.39 L397.91,301.11 L398.25,300.82 L398.59,300.53 L398.92,300.23 L399.26,299.92 L399.58,299.61 L399.90,299.30 L400.22,298.98 L400.53,298.65 L400.85,298.31 L401.17,297.96 L401.49,297.61 L401.80,297.25 L402.12,296.88 L402.43,296.51 L402.74,296.13 L403.05,295.75 L403.35,295.36 L403.65,294.98 L403.95,294.58 L404.24,294.19 L404.52,293.80 L404.80,293.40 L405.08,293.01 L405.35,292.62 L405.61,292.22 L405.86,291.83 L406.11,291.44 L406.35,291.06 L406.58,290.68 L406.80,290.30 L407.01,289.92 L407.21,289.55 L407.40,289.17 L407.58,288.78 L407.61,288.71" fill="none" stroke="#1e90ff" stroke-width="3.67" stroke-linejoin="round"/>
<path d="M409.64,283.06 L409.76,282.72 L409.89,282.36 L410.02,282.00 L410.16,281.65 L410.30,281.30 L410.44,280.96 L410.58,280.62 L410.71,280.30 L410.83,279.98 L410.95,279.66 L410.98,279.58" fill="none" stroke="#1e90ff" stroke-width="3.67" stroke-linejoin="round"/>
<path d="M413.41,274.20 L413.49,274.06 L413.70,273.70 L413.92,273.33 L414.15,272.95 L414.39,272.56 L414.64,272.16 L414.90,271.76 L415.16,271.34 L415.44,270.92 L415.71,270.49 L416.00,270.06 L416.29,269.63 L416.59,269.20 L416.89,268.76 L417.19,268.33 L417.50,267.90 L417.81,267.47 L418.12,267.05 L418.43,266.64 L418.74,266.23 L419.06,265.83 L419.37,265.44 L419.68,265.06 L419.99,264.69 L420.30,264.34 L420.60,264.00 L420.90,263.67 L421.21,263.36 L421.52,263.05 L421.83,262.76 L422.15,262.47 L422.46,262.19 L422.78,261.92 L423.10,261.65 L423.42,261.39 L423.74,261.14 L424.06,260.89 L424.39,260.64 L424.71,260.40 L425.03,260.16 L425.36,259.93 L425.68,259.69 L426.00,259.46 L426.32,259.23 L426.64,258.99 L426.95,258.76 L427.27,258.52 L427.58,258.28 L427.89,258.04 L428.20,257.80 L428.51,257.56 L428.81,257.31 L429.11,257.07 L429.24,256.97" fill="none" stroke="#1e90ff" stroke-width="3.67" stroke-linejoin="round"/>
<path d="M433.90,253.33 L434.14,253.14 L434.43,252.91 L434.72,252.68 L435.01,252.44 L435.30,252.20 L435.58,251.97 L435.86,251.76 L436.13,251.56 L436.39,251.38 L436.65,251.21 L436.84,251.08" fill="none" stroke="#1e90ff" stroke-width="3.67" stroke-linejoin="round"/>
<path d="M441.34,247.26 L441.36,247.24 L441.72,246.79 L442.10,246.30 L442.51,245.76 L442.94,245.15 L443.41,244.50 L443.90,243.80 L444.41,243.05 L444.93,242.27 L445.48,241.45 L446.03,240.61 L446.60,239.74 L447.17,238.86 L447.74,237.96 L448.31,237.06 L448.88,236.16 L449.44,235.26 L449.99,234.37 L450.53,233.49 L451.06,232.63 L451.56,231.80 L452.04,231.00 L452.50,230.23 L452.92,229.50 L453.32,228.81 L453.68,228.18 L454.00,227.60 L454.18,227.27" fill="none" stroke="#1e90ff" stroke-width="3.67" stroke-linejoin="round"/>
<path d="M456.10,221.69 L456.11,221.62 L456.17,221.37 L456.23,221.10 L456.30,220.83 L456.38,220.53 L456.48,220.23 L456.60,219.90 L456.72,219.57 L456.83,219.25 L456.94,218.95 L457.04,218.65 L457.14,218.36 L457.22,218.12" fill="none" stroke="#1e90ff" stroke-width="3.67" stroke-linejoin="round"/>
<path d="M459.45,212.52 L459.48,212.47 L459.73,211.95 L460.00,211.40 L460.30,210.81 L460.63,210.16 L460.98,209.47 L461.36,208.74 L461.77,207.98 L462.19,207.18 L462.63,206.35 L463.08,205.50 L463.55,204.64 L464.02,203.76 L464.50,202.87 L464.99,201.98 L465.47,201.09 L465.96,200.21 L466.44,199.33 L466.92,198.47 L467.39,197.63 L467.84,196.82 L468.28,196.03 L468.71,195.28 L469.12,194.57 L469.50,193.90 L469.87,193.27 L470.20,192.70 L470.51,192.17 L470.81,191.69 L471.02,191.34" fill="none" stroke="#1e90ff" stroke-width="3.67" stroke-linejoin="round"/>
<path d="M474.50,186.42 L474.54,186.36 L474.75,186.11 L474.95,185.86 L475.17,185.59 L475.40,185.30 L475.63,185.01 L475.84,184.74 L476.05,184.49 L476.24,184.24 L476.43,184.00 L476.62,183.77 L476.80,183.54 L476.83,183.51" fill="none" stroke="#1e90ff" stroke-width="3.67" stroke-linejoin="round"/>
<path d="M480.83,179.17 L480.97,179.04 L481.40,178.60 L481.87,178.13 L482.39,177.62 L482.95,177.07 L483.54,176.48 L484.17,175.87 L484.83,175.23 L485.51,174.57 L486.21,173.90 L486.92,173.20 L487.65,172.50 L488.39,171.79 L489.14,171.08 L489.88,170.37 L490.62,169.66 L491.36,168.97 L492.08,168.28 L492.79,167.61 L493.48,166.96 L494.15,166.34 L494.79,165.74 L495.40,165.17 L495.97,164.64 L496.51,164.15 L497.00,163.70 L497.46,163.29 L497.89,162.91 L497.91,162.89" fill="none" stroke="#1e90ff" stroke-width="3.67" stroke-linejoin="round"/>
<path d="M502.57,159.27 L502.73,159.15 L502.97,158.97 L503.21,158.77 L503.47,158.56 L503.73,158.34 L504.00,158.10 L504.28,157.85 L504.55,157.59 L504.82,157.32 L505.08,157.05 L505.33,156.79" fill="none" stroke="#1e90ff" stroke-width="3.67" stroke-linejoin="round"/>
<path d="M509.44,152.50 L509.52,152.43 L509.81,152.21 L510.10,152.00 L510.40,151.80 L510.70,151.61 L511.00,151.43 L511.30,151.26 L511.60,151.09 L511.90,150.93 L512.20,150.78 L512.50,150.64 L512.81,150.50 L513.11,150.37 L513.43,150.24 L513.74,150.12 L514.06,150.00 L514.39,149.89 L514.72,149.78 L515.07,149.67 L515.41,149.57 L515.77,149.47 L516.14,149.37 L516.52,149.27 L516.91,149.18 L517.31,149.08 L517.73,148.99 L518.16,148.89 L518.60,148.80 L519.06,148.71 L519.55,148.62 L520.06,148.54 L520.60,148.47 L521.15,148.40 L521.71,148.33 L522.29,148.27 L522.89,148.21 L523.49,148.15 L524.09,148.09 L524.70,148.04 L525.32,147.99 L525.93,147.94 L526.54,147.88 L527.15,147.83 L527.75,147.78 L528.34,147.73 L528.91,147.68 L529.48,147.62 L530.02,147.56 L530.55,147.50 L531.06,147.44 L531.54,147.37 L532.00,147.30 L532.37,147.24" fill="none" stroke="#1e90ff" stroke-width="3.67" stroke-linejoin="round"/>
<path d="M538.20,146.06 L538.43,145.98 L538.72,145.86 L539.01,145.74 L539.30,145.60 L539.60,145.46 L539.90,145.30 L540.20,145.13 L540.51,144.96 L540.81,144.78 L541.10,144.59 L541.40,144.39 L541.51,144.31" fill="none" stroke="#1e90ff" stroke-width="3.67" stroke-linejoin="round"/>
<path d="M545.94,140.23 L546.10,140.04 L546.35,139.72 L546.60,139.40 L546.84,139.07 L547.08,138.72 L547.32,138.36 L547.54,138.00 L547.77,137.62 L547.99,137.23 L548.20,136.83 L548.41,136.42 L548.62,136.01 L548.83,135.59 L549.04,135.17 L549.24,134.74 L549.45,134.31 L549.65,133.88 L549.86,133.45 L550.06,133.02 L550.27,132.59 L550.48,132.16 L550.69,131.74 L550.90,131.32 L551.12,130.90 L551.34,130.50 L551.57,130.09 L551.80,129.70 L552.04,129.31 L552.28,128.92 L552.52,128.54 L552.77,128.15 L553.03,127.76 L553.28,127.38 L553.54,127.00 L553.80,126.61 L554.06,126.23 L554.32,125.85 L554.59,125.48 L554.85,125.10 L555.11,124.72 L555.37,124.35 L555.63,123.98 L555.89,123.61 L556.14,123.24 L556.39,122.87 L556.64,122.50 L556.88,122.14 L557.12,121.78 L557.35,121.42 L557.58,121.06 L557.80,120.70 L558.01,120.34 L558.22,119.99 L558.42,119.63 L558.45,119.59" fill="none" stroke="#1e90ff" stroke-width="3.67" stroke-linejoin="round"/>
<path d="M561.22,114.21 L561.26,114.13 L561.44,113.82 L561.62,113.51 L561.81,113.20 L562.00,112.90 L562.20,112.60 L562.40,112.31 L562.60,112.03 L562.80,111.75 L563.00,111.48 L563.21,111.21 L563.30,111.10" fill="none" stroke="#1e90ff" stroke-width="3.67" stroke-linejoin="round"/>
<path d="M567.31,106.69 L567.40,106.60 L567.65,106.35 L567.91,106.09 L568.17,105.82 L568.44,105.56 L568.71,105.28 L568.99,105.01 L569.27,104.74 L569.55,104.46 L569.83,104.18 L570.12,103.91 L570.41,103.63 L570.70,103.36 L570.99,103.09 L571.28,102.83 L571.57,102.57 L571.86,102.32 L572.15,102.07 L572.44,101.83 L572.72,101.60 L573.01,101.38 L573.29,101.17 L573.56,100.97 L573.83,100.78 L574.10,100.60 L574.36,100.43 L574.62,100.27 L574.88,100.12 L575.13,99.97 L575.38,99.83 L575.63,99.70 L575.88,99.57 L576.13,99.45 L576.37,99.34 L576.61,99.23 L576.86,99.13 L577.10,99.04 L577.34,98.95 L577.59,98.87 L577.83,98.79 L578.07,98.73 L578.32,98.66 L578.57,98.61 L578.82,98.56 L579.07,98.51 L579.32,98.48 L579.58,98.45 L579.84,98.42 L580.10,98.40 L580.37,98.38 L580.64,98.37 L580.91,98.36 L581.19,98.36 L581.47,98.36 L581.75,98.37 L582.04,98.38 L582.32,98.39 L582.61,98.42 L582.90,98.44 L583.19,98.48 L583.48,98.53 L583.76,98.58 L584.05,98.64 L584.34,98.71 L584.62,98.79 L584.91,98.87 L585.19,98.97 L585.46,99.08 L585.74,99.20 L586.01,99.33 L586.28,99.48 L586.54,99.63 L586.80,99.80 L587.06,99.98 L587.31,100.19 L587.57,100.40 L587.78,100.60" fill="none" stroke="#1e90ff" stroke-width="3.67" stroke-linejoin="round"/>
<path d="M591.44,105.28 L591.60,105.53 L591.81,105.86 L592.01,106.18 L592.21,106.49 L592.40,106.80 L592.58,107.10 L592.76,107.41 L592.92,107.71 L593.08,108.01 L593.23,108.31 L593.32,108.49" fill="none" stroke="#1e90ff" stroke-width="3.67" stroke-linejoin="round"/>
<path d="M595.66,113.93 L595.72,114.04 L595.90,114.40 L596.09,114.76 L596.29,115.13 L596.49,115.50 L596.69,115.88 L596.90,116.27 L597.12,116.66 L597.33,117.05 L597.56,117.45 L597.78,117.85 L598.01,118.25 L598.24,118.66 L598.47,119.07 L598.71,119.48 L598.95,119.89 L599.19,120.30 L599.43,120.72 L599.68,121.13 L599.92,121.55 L600.17,121.96 L600.41,122.37 L600.66,122.78 L600.91,123.19 L601.15,123.60 L601.40,124.00 L601.65,124.41 L601.90,124.82 L602.15,125.25 L602.40,125.67 L602.65,126.11 L602.90,126.55 L603.16,126.99 L603.42,127.43 L603.68,127.87 L603.94,128.31 L604.20,128.75 L604.46,129.19 L604.73,129.62 L604.99,130.04 L605.26,130.46 L605.53,130.87 L605.79,131.27 L606.06,131.66 L606.33,132.04 L606.61,132.40 L606.88,132.75 L607.15,133.08 L607.43,133.40 L607.70,133.70 L607.97,133.98 L608.08,134.09" fill="none" stroke="#1e90ff" stroke-width="3.67" stroke-linejoin="round"/>
<path d="M612.93,137.43 L613.02,137.47 L613.32,137.57 L613.63,137.67 L613.95,137.75 L614.27,137.83 L614.60,137.90 L614.94,137.95 L615.29,137.99 L615.65,138.00 L616.01,138.00 L616.39,137.98 L616.54,137.97" fill="none" stroke="#1e90ff" stroke-width="3.67" stroke-linejoin="round"/>
<path d="M622.32,136.93 L622.61,136.88 L622.95,136.84 L623.28,136.81 L623.60,136.80 L623.91,136.80 L624.20,136.80 L624.49,136.81 L624.76,136.82 L625.03,136.84 L625.29,136.87 L625.55,136.89 L625.80,136.93 L626.04,136.96 L626.28,137.00 L626.51,137.04 L626.74,137.08 L626.97,137.13 L627.20,137.17 L627.42,137.22 L627.65,137.26 L627.87,137.31 L628.10,137.36 L628.32,137.40 L628.55,137.44 L628.78,137.49 L629.02,137.53 L629.26,137.57 L629.50,137.60 L629.65,137.95 L629.80,138.30 L629.95,138.65 L630.10,139.00 L630.25,139.35 L630.40,139.70 L630.55,140.05 L630.70,140.40 L630.85,140.75 L631.00,141.10 L631.15,141.45 L631.30,141.80 L631.45,142.15 L631.60,142.50 L631.75,142.85 L631.90,143.20 L632.05,143.55 L632.20,143.90 L632.35,144.25 L632.50,144.60 L632.65,144.95 L632.80,145.30 L632.95,145.65 L633.10,146.00" fill="none" stroke="#1e90ff" stroke-width="3.67" stroke-linejoin="round"/>
<rect x="35.5" y="10.5" width="626.0" height="395.0" fill="none" stroke="#2a2a2a" stroke-width="0.8"/>
<line x1="32.00" y1="377.00" x2="35.50" y2="377.00" stroke="#2a2a2a" stroke-width="0.8"/>
<text class="t" transform="translate(27.9,376.10) scale(0.87,1)" font-size="12" text-anchor="end" dominant-baseline="central">60</text>
<line x1="32.00" y1="320.58" x2="35.50" y2="320.58" stroke="#2a2a2a" stroke-width="0.8"/>
<text class="t" transform="translate(27.9,319.68) scale(0.87,1)" font-size="12" text-anchor="end" dominant-baseline="central">80</text>
<line x1="32.00" y1="264.17" x2="35.50" y2="264.17" stroke="#2a2a2a" stroke-width="0.8"/>
<text class="t" transform="translate(27.3,263.27) scale(0.87,1)" font-size="12" text-anchor="end" dominant-baseline="central">100</text>
<line x1="32.00" y1="207.75" x2="35.50" y2="207.75" stroke="#2a2a2a" stroke-width="0.8"/>
<text class="t" transform="translate(27.3,206.85) scale(0.87,1)" font-size="12" text-anchor="end" dominant-baseline="central">120</text>
<line x1="32.00" y1="151.34" x2="35.50" y2="151.34" stroke="#2a2a2a" stroke-width="0.8"/>
<text class="t" transform="translate(27.3,150.44) scale(0.87,1)" font-size="12" text-anchor="end" dominant-baseline="central">140</text>
<line x1="32.00" y1="94.92" x2="35.50" y2="94.92" stroke="#2a2a2a" stroke-width="0.8"/>
<text class="t" transform="translate(27.3,94.02) scale(0.87,1)" font-size="12" text-anchor="end" dominant-baseline="central">160</text>
<line x1="32.00" y1="38.50" x2="35.50" y2="38.50" stroke="#2a2a2a" stroke-width="0.8"/>
<text class="t" transform="translate(27.3,37.60) scale(0.87,1)" font-size="12" text-anchor="end" dominant-baseline="central">180</text>
<line x1="66.60" y1="405.50" x2="66.60" y2="409.00" stroke="#2a2a2a" stroke-width="0.8"/>
<text class="t" transform="translate(68.20,424.50) rotate(45) scale(0.87,1)" font-size="12" text-anchor="middle" dominant-baseline="central">10109</text>
<line x1="80.76" y1="405.50" x2="80.76" y2="409.00" stroke="#2a2a2a" stroke-width="0.8"/>
<text class="t" transform="translate(82.36,424.50) rotate(45) scale(0.87,1)" font-size="12" text-anchor="middle" dominant-baseline="central">10201</text>
<line x1="94.92" y1="405.50" x2="94.92" y2="409.00" stroke="#2a2a2a" stroke-width="0.8"/>
<text class="t" transform="translate(96.52,424.50) rotate(45) scale(0.87,1)" font-size="12" text-anchor="middle" dominant-baseline="central">10205</text>
<line x1="109.09" y1="405.50" x2="109.09" y2="409.00" stroke="#2a2a2a" stroke-width="0.8"/>
<text class="t" transform="translate(110.69,424.50) rotate(45) scale(0.87,1)" font-size="12" text-anchor="middle" dominant-baseline="central">10209</text>
<line x1="123.25" y1="405.50" x2="123.25" y2="409.00" stroke="#2a2a2a" stroke-width="0.8"/>
<text class="t" transform="translate(124.85,424.50) rotate(45) scale(0.87,1)" font-size="12" text-anchor="middle" dominant-baseline="central">10301</text>
<line x1="137.41" y1="405.50" x2="137.41" y2="409.00" stroke="#2a2a2a" stroke-width="0.8"/>
<text class="t" transform="translate(139.01,424.50) rotate(45) scale(0.87,1)" font-size="12" text-anchor="middle" dominant-baseline="central">10305</text>
<line x1="151.57" y1="405.50" x2="151.57" y2="409.00" stroke="#2a2a2a" stroke-width="0.8"/>
<text class="t" transform="translate(153.17,424.50) rotate(45) scale(0.87,1)" font-size="12" text-anchor="middle" dominant-baseline="central">10309</text>
<line x1="165.74" y1="405.50" x2="165.74" y2="409.00" stroke="#2a2a2a" stroke-width="0.8"/>
<text class="t" transform="translate(167.34,424.50) rotate(45) scale(0.87,1)" font-size="12" text-anchor="middle" dominant-baseline="central">10401</text>
<line x1="179.90" y1="405.50" x2="179.90" y2="409.00" stroke="#2a2a2a" stroke-width="0.8"/>
<text class="t" transform="translate(181.50,424.50) rotate(45) scale(0.87,1)" font-size="12" text-anchor="middle" dominant-baseline="central">10405</text>
<line x1="194.06" y1="405.50" x2="194.06" y2="409.00" stroke="#2a2a2a" stroke-width="0.8"/>
<text class="t" transform="translate(195.66,424.50) rotate(45) scale(0.87,1)" font-size="12" text-anchor="middle" dominant-baseline="central">10409</text>
<line x1="208.22" y1="405.50" x2="208.22" y2="409.00" stroke="#2a2a2a" stroke-width="0.8"/>
<text class="t" transform="translate(209.82,424.50) rotate(45) scale(0.87,1)" font-size="12" text-anchor="middle" dominant-baseline="central">10501</text>
<line x1="222.39" y1="405.50" x2="222.39" y2="409.00" stroke="#2a2a2a" stroke-width="0.8"/>
<text class="t" transform="translate(223.99,424.50) rotate(45) scale(0.87,1)" font-size="12" text-anchor="middle" dominant-baseline="central">10505</text>
<line x1="236.55" y1="405.50" x2="236.55" y2="409.00" stroke="#2a2a2a" stroke-width="0.8"/>
<text class="t" transform="translate(238.15,424.50) rotate(45) scale(0.87,1)" font-size="12" text-anchor="middle" dominant-baseline="central">10509</text>
<line x1="250.71" y1="405.50" x2="250.71" y2="409.00" stroke="#2a2a2a" stroke-width="0.8"/>
<text class="t" transform="translate(252.31,424.50) rotate(45) scale(0.87,1)" font-size="12" text-anchor="middle" dominant-baseline="central">10601</text>
<line x1="264.88" y1="405.50" x2="264.88" y2="409.00" stroke="#2a2a2a" stroke-width="0.8"/>
<text class="t" transform="translate(266.48,424.50) rotate(45) scale(0.87,1)" font-size="12" text-anchor="middle" dominant-baseline="central">10605</text>
<line x1="279.04" y1="405.50" x2="279.04" y2="409.00" stroke="#2a2a2a" stroke-width="0.8"/>
<text class="t" transform="translate(280.64,424.50) rotate(45) scale(0.87,1)" font-size="12" text-anchor="middle" dominant-baseline="central">10609</text>
<line x1="293.20" y1="405.50" x2="293.20" y2="409.00" stroke="#2a2a2a" stroke-width="0.8"/>
<text class="t" transform="translate(294.80,424.50) rotate(45) scale(0.87,1)" font-size="12" text-anchor="middle" dominant-baseline="central">10701</text>
<line x1="307.36" y1="405.50" x2="307.36" y2="409.00" stroke="#2a2a2a" stroke-width="0.8"/>
<text class="t" transform="translate(308.96,424.50) rotate(45) scale(0.87,1)" font-size="12" text-anchor="middle" dominant-baseline="central">10705</text>
<line x1="321.52" y1="405.50" x2="321.52" y2="409.00" stroke="#2a2a2a" stroke-width="0.8"/>
<text class="t" transform="translate(323.12,424.50) rotate(45) scale(0.87,1)" font-size="12" text-anchor="middle" dominant-baseline="central">10709</text>
<line x1="335.69" y1="405.50" x2="335.69" y2="409.00" stroke="#2a2a2a" stroke-width="0.8"/>
<text class="t" transform="translate(337.29,424.50) rotate(45) scale(0.87,1)" font-size="12" text-anchor="middle" dominant-baseline="central">10801</text>
<line x1="349.85" y1="405.50" x2="349.85" y2="409.00" stroke="#2a2a2a" stroke-width="0.8"/>
<text class="t" transform="translate(351.45,424.50) rotate(45) scale(0.87,1)" font-size="12" text-anchor="middle" dominant-baseline="central">10805</text>
<line x1="364.01" y1="405.50" x2="364.01" y2="409.00" stroke="#2a2a2a" stroke-width="0.8"/>
<text class="t" transform="translate(365.61,424.50) rotate(45) scale(0.87,1)" font-size="12" text-anchor="middle" dominant-baseline="central">10809</text>
<line x1="378.17" y1="405.50" x2="378.17" y2="409.00" stroke="#2a2a2a" stroke-width="0.8"/>
<text class="t" transform="translate(379.77,424.50) rotate(45) scale(0.87,1)" font-size="12" text-anchor="middle" dominant-baseline="central">10901</text>
<line x1="392.34" y1="405.50" x2="392.34" y2="409.00" stroke="#2a2a2a" stroke-width="0.8"/>
<text class="t" transform="translate(393.94,424.50) rotate(45) scale(0.87,1)" font-size="12" text-anchor="middle" dominant-baseline="central">10905</text>
<line x1="406.50" y1="405.50" x2="406.50" y2="409.00" stroke="#2a2a2a" stroke-width="0.8"/>
<text class="t" transform="translate(408.10,424.50) rotate(45) scale(0.87,1)" font-size="12" text-anchor="middle" dominant-baseline="central">10909</text>
<line x1="420.66" y1="405.50" x2="420.66" y2="409.00" stroke="#2a2a2a" stroke-width="0.8"/>
<text class="t" transform="translate(422.26,424.50) rotate(45) scale(0.87,1)" font-size="12" text-anchor="middle" dominant-baseline="central">11001</text>
<line x1="434.82" y1="405.50" x2="434.82" y2="409.00" stroke="#2a2a2a" stroke-width="0.8"/>
<text class="t" transform="translate(436.42,424.50) rotate(45) scale(0.87,1)" font-size="12" text-anchor="middle" dominant-baseline="central">11005</text>
<line x1="448.99" y1="405.50" x2="448.99" y2="409.00" stroke="#2a2a2a" stroke-width="0.8"/>
<text class="t" transform="translate(450.59,424.50) rotate(45) scale(0.87,1)" font-size="12" text-anchor="middle" dominant-baseline="central">11009</text>
<line x1="463.15" y1="405.50" x2="463.15" y2="409.00" stroke="#2a2a2a" stroke-width="0.8"/>
<text class="t" transform="translate(464.75,424.50) rotate(45) scale(0.87,1)" font-size="12" text-anchor="middle" dominant-baseline="central">11101</text>
<line x1="477.31" y1="405.50" x2="477.31" y2="409.00" stroke="#2a2a2a" stroke-width="0.8"/>
<text class="t" transform="translate(478.91,424.50) rotate(45) scale(0.87,1)" font-size="12" text-anchor="middle" dominant-baseline="central">11105</text>
<line x1="491.48" y1="405.50" x2="491.48" y2="409.00" stroke="#2a2a2a" stroke-width="0.8"/>
<text class="t" transform="translate(493.08,424.50) rotate(45) scale(0.87,1)" font-size="12" text-anchor="middle" dominant-baseline="central">11109</text>
<line x1="505.64" y1="405.50" x2="505.64" y2="409.00" stroke="#2a2a2a" stroke-width="0.8"/>
<text class="t" transform="translate(507.24,424.50) rotate(45) scale(0.87,1)" font-size="12" text-anchor="middle" dominant-baseline="central">11201</text>
<line x1="519.80" y1="405.50" x2="519.80" y2="409.00" stroke="#2a2a2a" stroke-width="0.8"/>
<text class="t" transform="translate(521.40,424.50) rotate(45) scale(0.87,1)" font-size="12" text-anchor="middle" dominant-baseline="central">11205</text>
<line x1="533.96" y1="405.50" x2="533.96" y2="409.00" stroke="#2a2a2a" stroke-width="0.8"/>
<text class="t" transform="translate(535.56,424.50) rotate(45) scale(0.87,1)" font-size="12" text-anchor="middle" dominant-baseline="central">11209</text>
<line x1="548.12" y1="405.50" x2="548.12" y2="409.00" stroke="#2a2a2a" stroke-width="0.8"/>
<text class="t" transform="translate(549.73,424.50) rotate(45) scale(0.87,1)" font-size="12" text-anchor="middle" dominant-baseline="central">11301</text>
<line x1="562.29" y1="405.50" x2="562.29" y2="409.00" stroke="#2a2a2a" stroke-width="0.8"/>
<text class="t" transform="translate(563.89,424.50) rotate(45) scale(0.87,1)" font-size="12" text-anchor="middle" dominant-baseline="central">11305</text>
<line x1="576.45" y1="405.50" x2="576.45" y2="409.00" stroke="#2a2a2a" stroke-width="0.8"/>
<text class="t" transform="translate(578.05,424.50) rotate(45) scale(0.87,1)" font-size="12" text-anchor="middle" dominant-baseline="central">11309</text>
<line x1="590.61" y1="405.50" x2="590.61" y2="409.00" stroke="#2a2a2a" stroke-width="0.8"/>
<text class="t" transform="translate(592.21,424.50) rotate(45) scale(0.87,1)" font-size="12" text-anchor="middle" dominant-baseline="central">11401</text>
<line x1="604.77" y1="405.50" x2="604.77" y2="409.00" stroke="#2a2a2a" stroke-width="0.8"/>
<text class="t" transform="translate(606.38,424.50) rotate(45) scale(0.87,1)" font-size="12" text-anchor="middle" dominant-baseline="central">11405</text>
<line x1="618.94" y1="405.50" x2="618.94" y2="409.00" stroke="#2a2a2a" stroke-width="0.8"/>
<text class="t" transform="translate(620.54,424.50) rotate(45) scale(0.87,1)" font-size="12" text-anchor="middle" dominant-baseline="central">11409</text>
<line x1="633.10" y1="405.50" x2="633.10" y2="409.00" stroke="#2a2a2a" stroke-width="0.8"/>
<text class="t" transform="translate(634.70,424.50) rotate(45) scale(0.87,1)" font-size="12" text-anchor="middle" dominant-baseline="central">11501</text>
<line x1="49" y1="29.75" x2="80.1" y2="29.75" stroke="#ff7f50" stroke-width="3.67" stroke-linecap="square"/>
<line x1="162" y1="29.75" x2="192" y2="29.75" stroke="#40e0d0" stroke-width="3.67" stroke-dasharray="13.58 5.87"/>
<line x1="262.4" y1="29.75" x2="292.6" y2="29.75" stroke="#1e90ff" stroke-width="3.67" stroke-dasharray="23.49 5.87 3.67 5.87"/>
<text x="89.5" y="29.75" font-size="12" dominant-baseline="central">南科區域</text>
<text x="202.3" y="29.75" font-size="12" dominant-baseline="central">善化區</text>
<text x="302.5" y="29.75" font-size="12" dominant-baseline="central">新市區</text>
<text x="654.3" y="37.4" font-size="9" text-anchor="end" dominant-baseline="central" textLength="82.6" lengthAdjust="spacingAndGlyphs">基期：110年1月=100</text>
<text x="348.3" y="450.8" font-size="14" text-anchor="middle" dominant-baseline="central" xml:space="preserve">圖5  南科區域、善化區、新市區住宅價格月指數趨勢圖</text>
</svg>
</body></html>
